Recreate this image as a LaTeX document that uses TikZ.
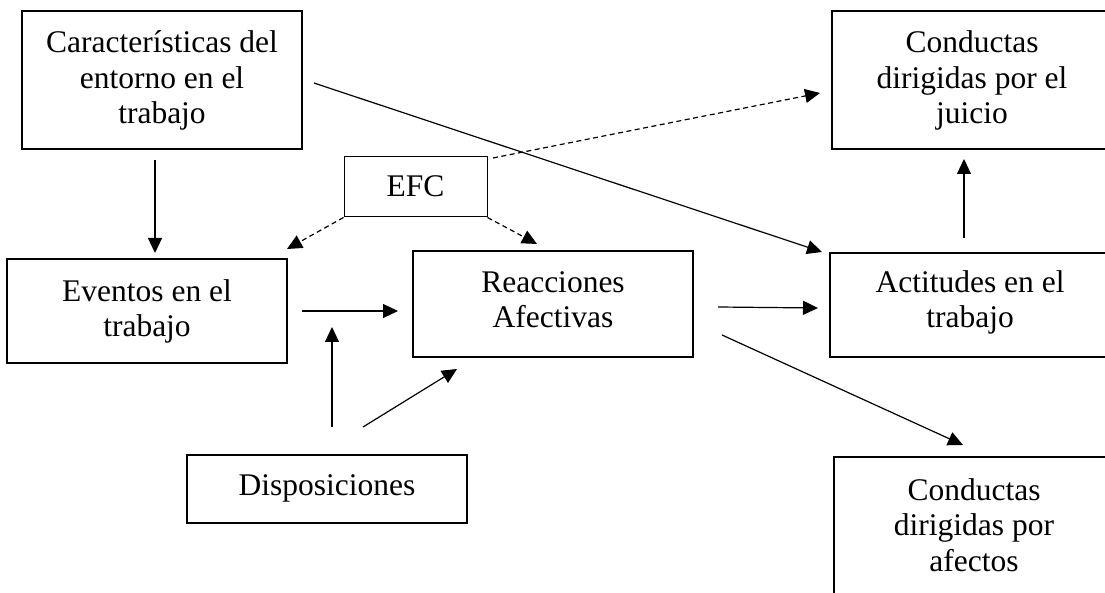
\documentclass[tikz,border=0pt]{standalone}
\usepackage{fontspec}
\setmainfont{Liberation Serif}
\usetikzlibrary{arrows.meta}
\tikzset{
  box/.style={draw, line width=2pt, inner sep=0pt},
  thinbox/.style={draw, line width=1pt, inner sep=0pt},
  % anchored at the baseline of the last line of text
  txt/.style={inner sep=0pt, align=center, anchor=base,
    font=\fontsize{31.5}{35.5}\selectfont},
  link/.style={line width=1.2pt, -{Triangle[length=15pt,width=14pt]}},
  dlink/.style={link, dash pattern=on 5pt off 3.5pt},
}
\begin{document}
\begin{tikzpicture}[x=1pt, y=-1pt]
\useasboundingbox (0,0) rectangle (1105,593);
\begin{scope}
\clip (0,0) rectangle (1105,593);
% boxes
\node[box, minimum width=280pt, minimum height=138pt] (car) at (162,80) {};
\node[box, minimum width=280pt, minimum height=138pt] (jui) at (972,80) {};
\node[thinbox, minimum width=143pt, minimum height=60pt] (efc) at (415.5,187) {};
\node[box, minimum width=280pt, minimum height=104pt] (eve) at (147,311) {};
\node[box, minimum width=280pt, minimum height=106pt] (rea) at (553,304) {};
\node[box, minimum width=280pt, minimum height=104pt] (act) at (970,305) {};
\node[box, minimum width=280pt, minimum height=68pt] (dis) at (327,489) {};
\node[box, minimum width=280pt, minimum height=180pt] (afe) at (974,547) {};
\end{scope}
% texts
\node[txt] (cart) at (162,124) {Características del\\entorno en el\\trabajo};
\node[txt] (juit) at (972,124) {Conductas\\dirigidas por el\\juicio};
\node[txt] (efct) at (415.5,197) {EFC};
\node[txt] (evet) at (147,337) {Eventos en el\\trabajo};
\node[txt] (reat) at (553,328) {Reacciones\\Afectivas};
\node[txt] (actt) at (970,328) {Actitudes en el\\trabajo};
\node[txt] (dist) at (327,495) {Disposiciones};
\node[txt] (afet) at (974,571) {Conductas\\dirigidas por\\afectos};
% connector ends
\coordinate (c1a) at (155,160);  \coordinate (c1b) at (155,253);
\coordinate (c2a) at (314,83);   \coordinate (c2b) at (822,252);
\coordinate (d1a) at (493,158);  \coordinate (d1b) at (820,93);
\coordinate (d2b) at (287,249);
\coordinate (d3b) at (537,244);
\coordinate (e1a) at (302,311);  \coordinate (e1b) at (398,311);
\coordinate (p1a) at (332,427);  \coordinate (p1b) at (332,327);
\coordinate (p2a) at (363,427);  \coordinate (p2b) at (457,369);
\coordinate (r1a) at (718,307);  \coordinate (r1b) at (818,308);
\coordinate (r2a) at (722,335);  \coordinate (r2b) at (963,445);
\coordinate (a1a) at (964,238);  \coordinate (a1b) at (964,159);
% solid links
\draw[link] (c1a) -- (c1b);
\draw[link] (c2a) -- (c2b);
\draw[link] (e1a) -- (e1b);
\draw[link] (p1a) -- (p1b);
\draw[link] (p2a) -- (p2b);
\draw[link] (r1a) -- (r1b);
\draw[link] (r2a) -- (r2b);
\draw[link] (a1a) -- (a1b);
% dashed links from EFC
\draw[dlink] (d1a) -- (d1b);
\draw[dlink] (efc.south west) -- (d2b);
\draw[dlink] (efc.south east) -- (d3b);
\end{tikzpicture}
\end{document}
